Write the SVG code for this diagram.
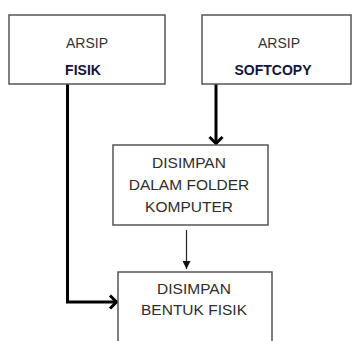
<svg xmlns="http://www.w3.org/2000/svg" width="352" height="341" viewBox="0 0 352 341">
<defs>
<style>
.box{fill:#fff;stroke:#555;stroke-width:1.5}
.t{font-family:"Liberation Sans",Arial,sans-serif;font-size:14px;fill:#333;text-anchor:middle}
.m{font-size:15.5px;fill:#2e2e2e}
.b{font-weight:bold;fill:#14143c}
.thick{fill:none;stroke:#000;stroke-width:3}
.thin{fill:none;stroke:#222;stroke-width:1.2}
</style>
<marker id="chev" viewBox="0 0 16 16" refX="10" refY="8" markerWidth="16" markerHeight="16" orient="auto" markerUnits="userSpaceOnUse">
<path d="M3,1.5 L9.5,8 L3,14.5" fill="none" stroke="#000" stroke-width="3"/>
</marker>
<marker id="tri" viewBox="0 0 10 10" refX="10" refY="5" markerWidth="8" markerHeight="8" orient="auto" markerUnits="userSpaceOnUse">
<path d="M0,0 L10,5 L0,10 Z" fill="#111"/>
</marker>
</defs>
<rect width="352" height="341" fill="#fff"/>
<g id="connectors">
<path class="thick" d="M67.5,84 V302 H117" marker-end="url(#chev)"/>
<path class="thick" d="M216,84 V144" marker-end="url(#chev)"/>
<path class="thin" d="M186.5,230 V269" marker-end="url(#tri)"/>
</g>
<g id="arsip-fisik">
<rect class="box" x="9" y="15" width="156" height="69"/>
<text class="t" x="87" y="48">ARSIP</text>
<text class="t b" x="83" y="75">FISIK</text>
</g>
<g id="arsip-softcopy">
<rect class="box" x="202" y="15" width="149" height="69"/>
<text class="t" x="279" y="48">ARSIP</text>
<text class="t b" x="273" y="75">SOFTCOPY</text>
</g>
<g id="folder-komputer">
<rect class="box" x="113" y="145" width="155" height="80"/>
<text class="t m" x="189" y="168">DISIMPAN</text>
<text class="t m" x="189" y="190">DALAM FOLDER</text>
<text class="t m" x="189" y="212">KOMPUTER</text>
</g>
<g id="bentuk-fisik">
<rect class="box" x="118" y="272" width="154" height="80"/>
<text class="t m" x="194" y="294">DISIMPAN</text>
<text class="t m" x="194" y="315">BENTUK FISIK</text>
</g>
</svg>
